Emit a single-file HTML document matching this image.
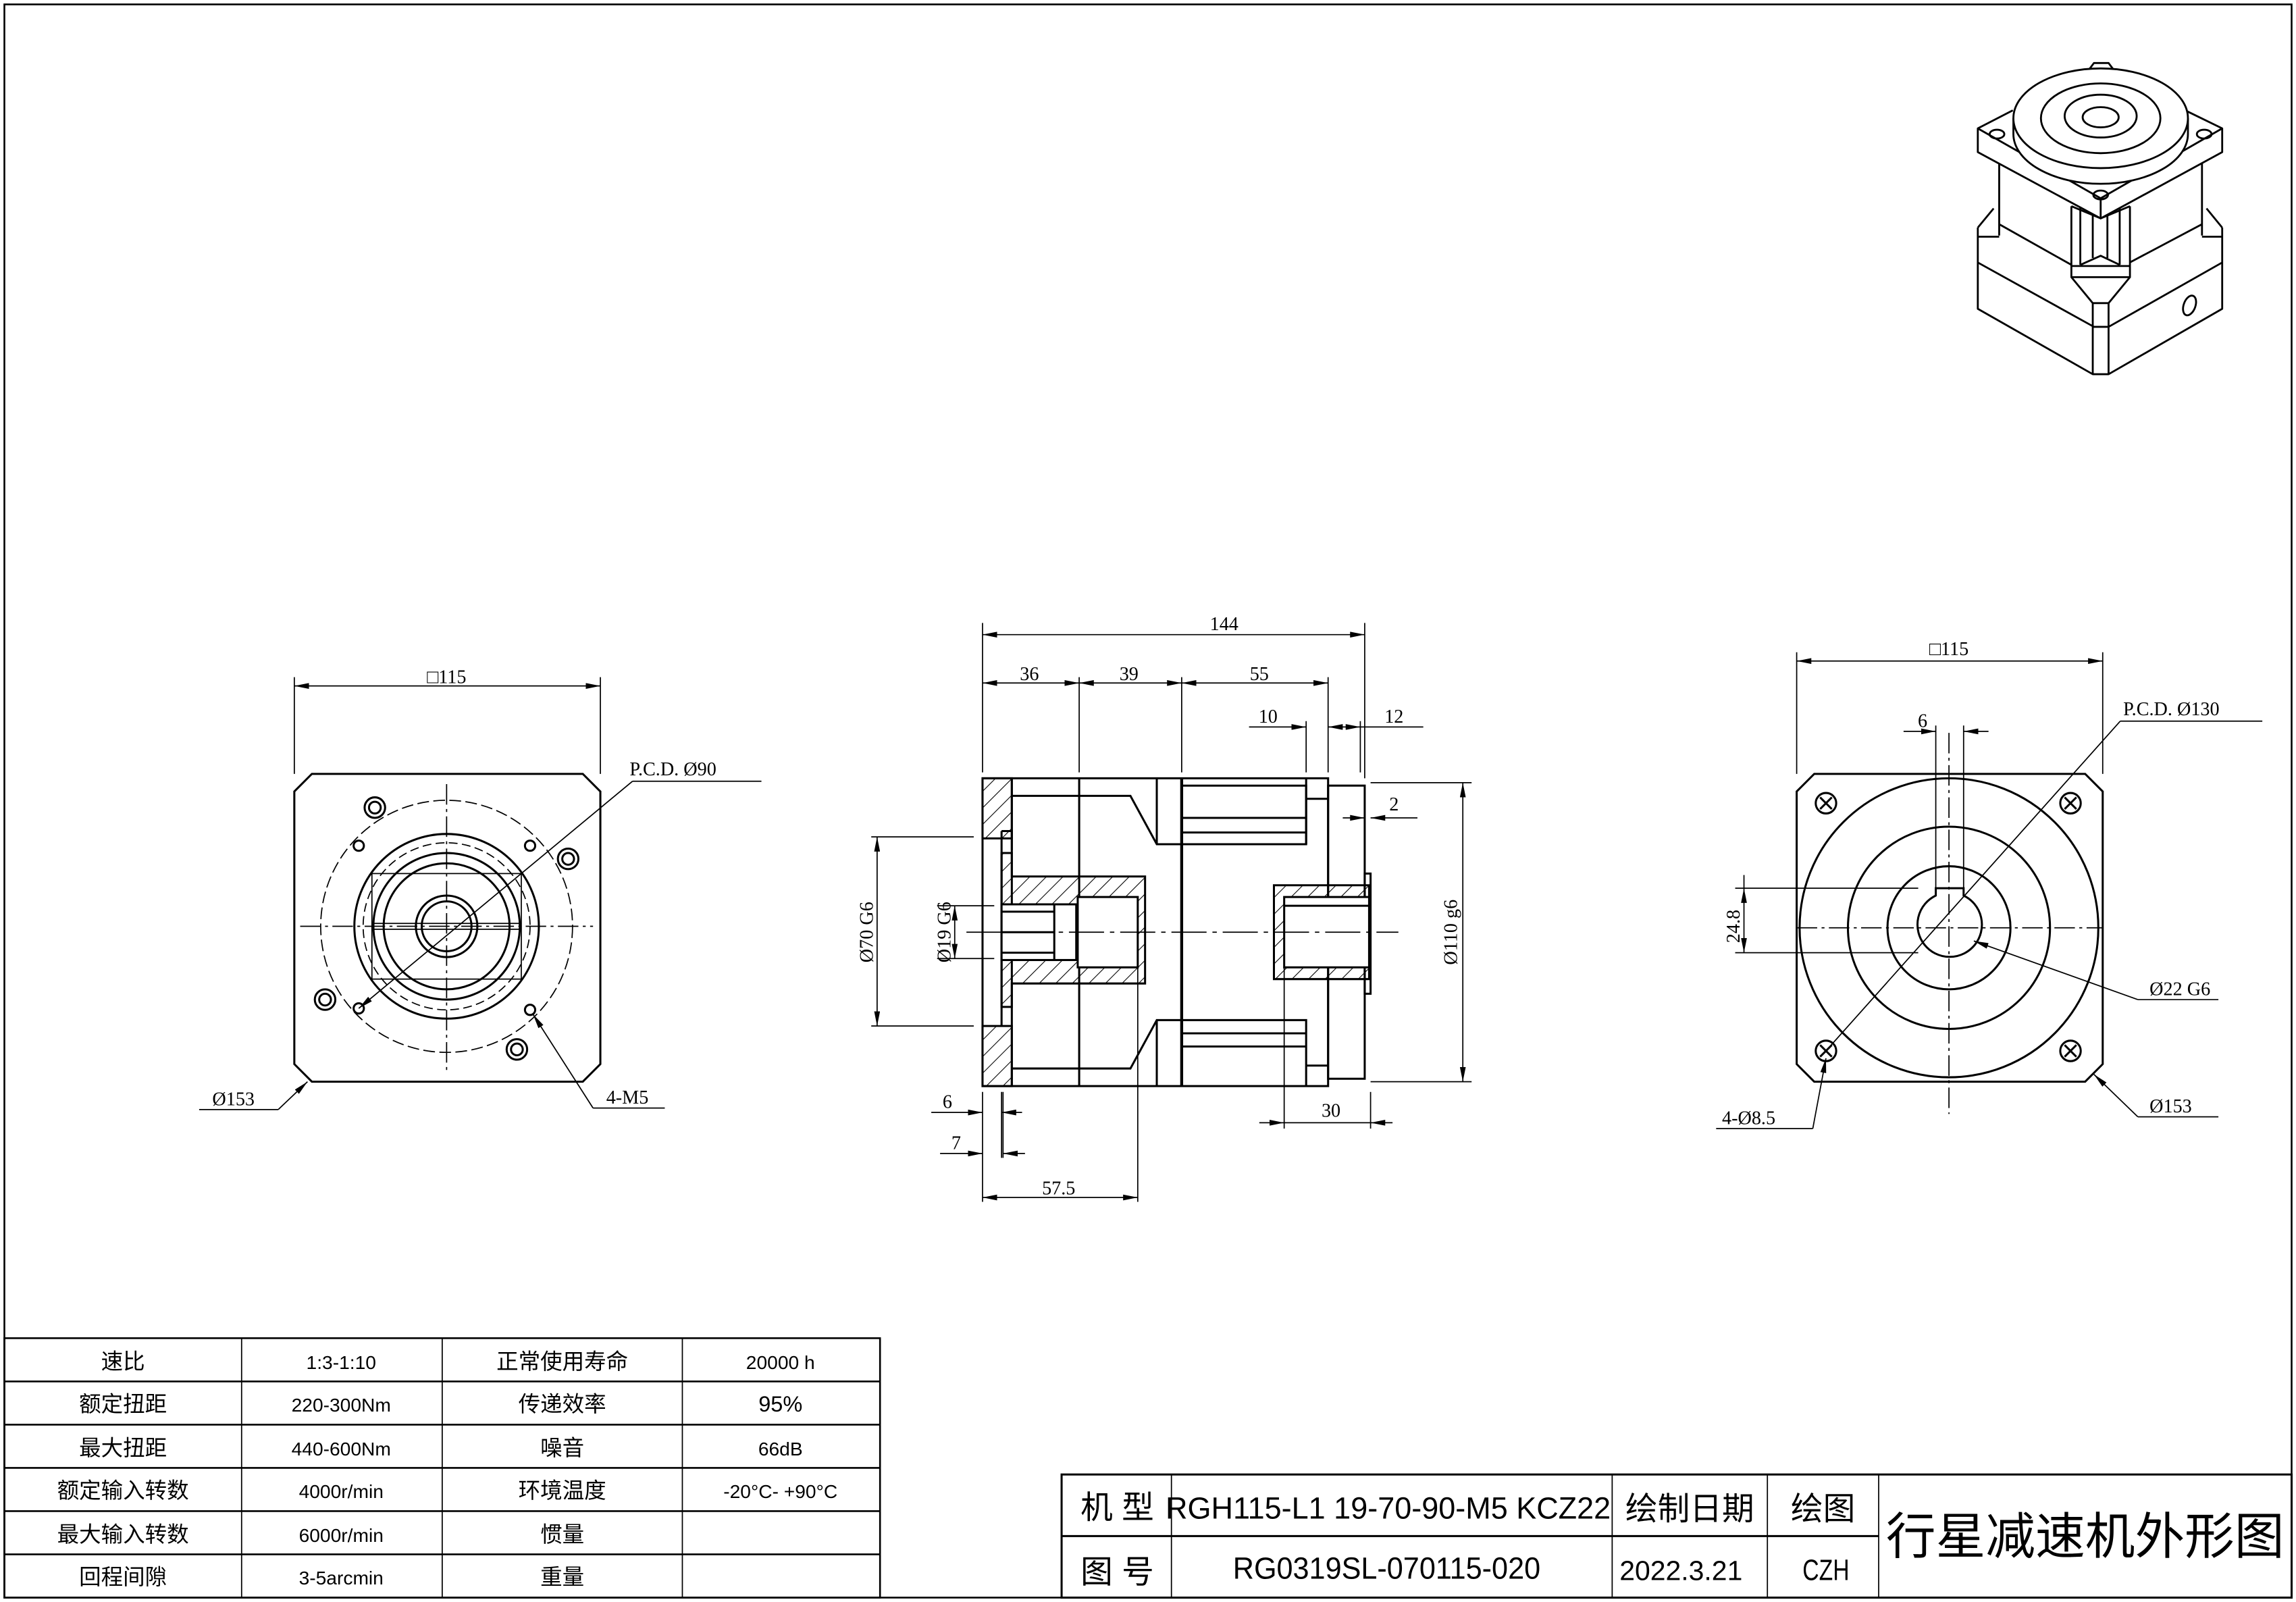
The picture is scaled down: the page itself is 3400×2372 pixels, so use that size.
<!DOCTYPE html>
<html><head><meta charset="utf-8"><style>
html,body{margin:0;padding:0;background:#fff}
svg{display:block}
text{font-family:"Liberation Sans","Noto Sans CJK SC",sans-serif;fill:#000}
.s{font-family:"Liberation Serif","Noto Serif CJK SC",serif}
</style></head><body>
<svg width="3400" height="2372" viewBox="0 0 1568 1093" preserveAspectRatio="none" xmlns="http://www.w3.org/2000/svg">
<defs>
<marker id="a" viewBox="0 0 10 4" refX="10" refY="2" markerWidth="10" markerHeight="4" orient="auto-start-reverse" markerUnits="userSpaceOnUse"><path d="M0,0L10,2L0,4z"/></marker>
<pattern id="h" width="8" height="8" patternUnits="userSpaceOnUse" patternTransform="rotate(45)"><line x1="0" y1="0" x2="0" y2="8" stroke="#000" stroke-width="1"/></pattern>
</defs>
<rect width="1568" height="1093" fill="#fff"/>
<rect x="3" y="3" width="1562" height="1087" fill="none" stroke="#000" stroke-width="1.2"/>

<!-- LEFT VIEW -->
<g fill="none" stroke="#000" stroke-width="1.4">
<path d="M213,528H398L410,540V726L398,738H213L201,726V540Z"/>
<circle cx="305" cy="632" r="86" stroke-width="0.8" stroke-dasharray="8,3"/>
<circle cx="305" cy="632" r="63"/>
<circle cx="305" cy="632" r="57" stroke-width="0.8" stroke-dasharray="6,3"/>
<circle cx="305" cy="632" r="50"/>
<circle cx="305" cy="632" r="43"/>
<circle cx="305" cy="632" r="21"/>
<circle cx="305" cy="632" r="17"/>
<rect x="254" y="596" width="102" height="72" stroke-width="0.8"/>
<line x1="254" y1="630" x2="356" y2="630" stroke-width="0.8"/><line x1="254" y1="634" x2="356" y2="634" stroke-width="0.8"/>
<circle cx="256" cy="551" r="7"/><circle cx="256" cy="551" r="4"/>
<circle cx="388" cy="586" r="7"/><circle cx="388" cy="586" r="4"/>
<circle cx="222" cy="682" r="7"/><circle cx="222" cy="682" r="4"/>
<circle cx="353" cy="716" r="7"/><circle cx="353" cy="716" r="4"/>
<circle cx="245" cy="577" r="3.5"/><circle cx="362" cy="577" r="3.5"/>
<circle cx="245" cy="688" r="3.5"/><circle cx="362" cy="689" r="3.5"/>
</g>
<g stroke="#000" stroke-width="0.8" fill="none">
<line x1="205" y1="632" x2="405" y2="632" stroke-dasharray="14,3,2,3"/>
<line x1="305" y1="535" x2="305" y2="730" stroke-dasharray="14,3,2,3"/>
<line x1="201" y1="528" x2="201" y2="462"/><line x1="410" y1="528" x2="410" y2="462"/>
<line x1="201" y1="468" x2="410" y2="468" marker-start="url(#a)" marker-end="url(#a)"/>
<line x1="245" y1="688" x2="432" y2="533" marker-start="url(#a)"/><line x1="432" y1="533" x2="520" y2="533"/>
<line x1="210" y1="738" x2="190" y2="757" marker-start="url(#a)"/><line x1="190" y1="757" x2="136" y2="757"/>
<line x1="364" y1="692" x2="405" y2="756" marker-start="url(#a)"/><line x1="405" y1="756" x2="454" y2="756"/>
</g>
<text x="305" y="466" font-size="13" text-anchor="middle" class="s">□115</text>
<text x="430" y="529" font-size="13" class="s">P.C.D. Ø90</text>
<text x="145" y="754" font-size="13" class="s">Ø153</text>
<text x="414" y="753" font-size="13" class="s">4-M5</text>

<!-- MIDDLE VIEW -->
<g fill="none" stroke="#000" stroke-width="1.4">
<rect x="671" y="531" width="236" height="210"/>
<rect x="907" y="536" width="25" height="200"/>
<rect x="932" y="596" width="4" height="82"/>
<line x1="737" y1="531" x2="737" y2="741"/>
<line x1="807" y1="531" x2="807" y2="741" stroke-width="2"/>
<line x1="691" y1="531" x2="691" y2="741"/>
<path d="M691,543H772L790,576H807"/>
<line x1="790" y1="531" x2="790" y2="576"/>
<path d="M691,729H772L790,696H807"/>
<line x1="790" y1="741" x2="790" y2="696"/>
<path d="M807,536H892V576H807"/><line x1="807" y1="558" x2="892" y2="558"/><line x1="807" y1="568" x2="892" y2="568"/>
<line x1="892" y1="531" x2="892" y2="576"/><line x1="892" y1="545" x2="907" y2="545"/>
<path d="M807,696H892V741"/><line x1="807" y1="705" x2="892" y2="705"/><line x1="807" y1="714" x2="892" y2="714"/>
<line x1="892" y1="727" x2="907" y2="727"/>
<path d="M671,531H691V572H671Z" fill="url(#h)"/>
<path d="M671,700H691V741H671Z" fill="url(#h)"/>
<path d="M684,567H691V580" /><line x1="684" y1="567" x2="684" y2="700"/>
<path d="M684,582H691V598H782V671H691V687H684Z" fill="url(#h)"/>
<rect x="684" y="617" width="51" height="38" fill="#fff"/>
<rect x="736" y="612" width="41" height="48" fill="#fff"/>
<line x1="684" y1="636" x2="720" y2="636"/><line x1="720" y1="617" x2="720" y2="655"/>
<line x1="684" y1="622" x2="720" y2="622"/><line x1="684" y1="650" x2="720" y2="650"/>
<path d="M870,604H935V668H870Z" fill="url(#h)"/>
<rect x="877" y="612" width="58" height="48" fill="#fff"/>
<line x1="877" y1="618" x2="935" y2="618"/>
</g>
<g stroke="#000" stroke-width="0.8" fill="none">
<line x1="660" y1="636" x2="955" y2="636" stroke-dasharray="24,4,3,4"/>
<line x1="671" y1="527" x2="671" y2="425"/><line x1="932" y1="531" x2="932" y2="425"/>
<line x1="671" y1="433" x2="932" y2="433" marker-start="url(#a)" marker-end="url(#a)"/>
<line x1="737" y1="527" x2="737" y2="462"/><line x1="807" y1="527" x2="807" y2="462"/><line x1="907" y1="527" x2="907" y2="462"/>
<line x1="671" y1="466" x2="737" y2="466" marker-start="url(#a)" marker-end="url(#a)"/>
<line x1="737" y1="466" x2="807" y2="466" marker-start="url(#a)" marker-end="url(#a)"/>
<line x1="807" y1="466" x2="907" y2="466" marker-start="url(#a)" marker-end="url(#a)"/>
<line x1="892" y1="527" x2="892" y2="492"/><line x1="929" y1="527" x2="929" y2="492"/>
<line x1="853" y1="496" x2="892" y2="496" marker-end="url(#a)"/>
<line x1="907" y1="496" x2="929" y2="496" marker-start="url(#a)" marker-end="url(#a)"/>
<line x1="929" y1="496" x2="972" y2="496"/>
<line x1="917" y1="558" x2="932" y2="558" marker-end="url(#a)"/><line x1="936" y1="558" x2="968" y2="558" marker-start="url(#a)"/>
<line x1="936" y1="534" x2="1005" y2="534"/><line x1="936" y1="738" x2="1005" y2="738"/>
<line x1="999" y1="534" x2="999" y2="738" marker-start="url(#a)" marker-end="url(#a)"/>
<line x1="665" y1="571" x2="595" y2="571"/><line x1="665" y1="700" x2="595" y2="700"/>
<line x1="599" y1="571" x2="599" y2="700" marker-start="url(#a)" marker-end="url(#a)"/>
<line x1="679" y1="618" x2="640" y2="618"/><line x1="679" y1="654" x2="640" y2="654"/>
<line x1="652" y1="618" x2="652" y2="654" marker-start="url(#a)" marker-end="url(#a)"/>
<line x1="671" y1="745" x2="671" y2="820"/><line x1="684" y1="745" x2="684" y2="790"/><line x1="685" y1="745" x2="685" y2="790"/>
<line x1="636" y1="759" x2="671" y2="759" marker-end="url(#a)"/><line x1="684" y1="759" x2="698" y2="759" marker-start="url(#a)"/>
<line x1="642" y1="787" x2="671" y2="787" marker-end="url(#a)"/><line x1="685" y1="787" x2="700" y2="787" marker-start="url(#a)"/>
<line x1="777" y1="660" x2="777" y2="820"/>
<line x1="671" y1="817" x2="777" y2="817" marker-start="url(#a)" marker-end="url(#a)"/>
<line x1="877" y1="660" x2="877" y2="770"/><line x1="936" y1="745" x2="936" y2="770"/>
<line x1="860" y1="766" x2="877" y2="766" marker-end="url(#a)"/>
<line x1="877" y1="766" x2="936" y2="766"/>
<line x1="936" y1="766" x2="951" y2="766" marker-start="url(#a)"/>
</g>
<g class="s" font-size="13" text-anchor="middle">
<text x="836" y="430" class="s">144</text>
<text x="703" y="464" class="s">36</text><text x="771" y="464" class="s">39</text><text x="860" y="464" class="s">55</text>
<text x="866" y="493" class="s">10</text><text x="952" y="493" class="s">12</text>
<text x="952" y="553" class="s">2</text>
<text x="909" y="762" class="s">30</text>
<text x="647" y="756" class="s">6</text><text x="653" y="784" class="s">7</text>
<text x="723" y="815" class="s">57.5</text>
<text x="0" y="0" transform="translate(995,636) rotate(-90)" class="s">Ø110 g6</text>
<text x="0" y="0" transform="translate(596,636) rotate(-90)" class="s">Ø70 G6</text>
<text x="0" y="0" transform="translate(649,636) rotate(-90)" class="s">Ø19 G6</text>
</g>

<!-- RIGHT VIEW -->
<g fill="none" stroke="#000" stroke-width="1.4">
<path d="M1239,528H1424L1436,540V726L1424,738H1239L1227,726V540Z"/>
<circle cx="1331" cy="633" r="102"/>
<circle cx="1331" cy="633" r="69"/>
<circle cx="1331" cy="633" r="42"/>
<path d="M1322,611A22,22 0 1 0 1341,611V606H1322Z"/>
<circle cx="1247" cy="548" r="7"/><line x1="1243" y1="544" x2="1251" y2="552"/><line x1="1251" y1="544" x2="1243" y2="552"/>
<circle cx="1414" cy="548" r="7"/><line x1="1410" y1="544" x2="1418" y2="552"/><line x1="1418" y1="544" x2="1410" y2="552"/>
<circle cx="1247" cy="717" r="7"/><line x1="1243" y1="713" x2="1251" y2="721"/><line x1="1251" y1="713" x2="1243" y2="721"/>
<circle cx="1414" cy="717" r="7"/><line x1="1410" y1="713" x2="1418" y2="721"/><line x1="1418" y1="713" x2="1410" y2="721"/>
</g>
<g stroke="#000" stroke-width="0.8" fill="none">
<line x1="1227" y1="633" x2="1436" y2="633" stroke-dasharray="14,3,2,3"/>
<line x1="1331" y1="500" x2="1331" y2="760" stroke-dasharray="14,3,2,3"/>
<line x1="1227" y1="528" x2="1227" y2="445"/><line x1="1436" y1="528" x2="1436" y2="445"/>
<line x1="1227" y1="451" x2="1436" y2="451" marker-start="url(#a)" marker-end="url(#a)"/>
<line x1="1322" y1="610" x2="1322" y2="495"/><line x1="1341" y1="610" x2="1341" y2="495"/>
<line x1="1300" y1="499" x2="1322" y2="499" marker-end="url(#a)"/><line x1="1341" y1="499" x2="1358" y2="499" marker-start="url(#a)"/>
<line x1="1247" y1="717" x2="1448" y2="492"/><line x1="1448" y1="492" x2="1545" y2="492"/>
<line x1="1310" y1="606" x2="1185" y2="606"/><line x1="1310" y1="650" x2="1185" y2="650"/>
<line x1="1191" y1="597" x2="1191" y2="606" /><line x1="1191" y1="606" x2="1191" y2="650" marker-start="url(#a)" marker-end="url(#a)"/>
<line x1="1348" y1="642" x2="1460" y2="682" marker-start="url(#a)"/><line x1="1460" y1="682" x2="1515" y2="682"/>
<line x1="1430" y1="733" x2="1460" y2="762" marker-start="url(#a)"/><line x1="1460" y1="762" x2="1515" y2="762"/>
<line x1="1247" y1="722" x2="1238" y2="770" marker-start="url(#a)"/><line x1="1238" y1="770" x2="1172" y2="770"/>
</g>
<g class="s" font-size="13">
<text x="1331" y="447" text-anchor="middle" class="s">□115</text>
<text x="1450" y="488" class="s">P.C.D. Ø130</text>
<text x="1313" y="496" text-anchor="middle" class="s">6</text>
<text x="0" y="0" transform="translate(1188,632) rotate(-90)" text-anchor="middle" class="s">24.8</text>
<text x="1468" y="679" class="s">Ø22 G6</text>
<text x="1468" y="759" class="s">Ø153</text>
<text x="1176" y="767" class="s">4-Ø8.5</text>
</g>

<!-- ISO VIEW -->
<g fill="none" stroke="#000" stroke-width="1.3" stroke-linejoin="round">
<!-- lower block -->
<path d="M1350.7,155.3V210.7L1429.2,255.3H1440L1517.6,210.7V155.3"/>
<path d="M1350.7,179.1L1430,223M1517.6,179.1L1440,223M1429.2,206.8V255.3M1440,206.8V255.3M1429.2,223H1440"/>
<path d="M1350.7,155.3L1361.5,142.2M1350.7,161.5H1365.3M1517.6,155.3L1506.9,142.2M1517.6,161.5H1503.8"/>
<path d="M1414.6,181.5H1454.6V189.1H1414.6Z"/>
<path d="M1414.6,189.1L1429.2,206.8H1440L1454.6,189.1"/>
<!-- upper body -->
<path d="M1365.3,111.5V160.7M1503.8,111.5V160.7"/>
<path d="M1365.3,153L1414.6,180.7M1454.6,179L1503.8,153"/>
<path d="M1414.6,140.7V181.5M1420.7,140.7V180.7M1429.2,140.7V176M1439.2,140.7V176M1447.6,140.7V180.7M1454.6,140.7V181.5"/>
<path d="M1414.6,140.7L1434.6,149L1454.6,140.7"/>
<path d="M1420.7,180.7L1434.6,174.5L1447.6,180.7"/>
<!-- flange -->
<path d="M1374.6,75.3L1350.7,87.6V103.8L1434.6,149L1517.6,103.8V87.6L1493.8,76" fill="#fff"/>
<path d="M1350.7,87.6L1434.6,135.3L1517.6,87.6M1434.6,135.3V149"/>
<ellipse cx="1363.8" cy="91.5" rx="5" ry="3"/><ellipse cx="1505.3" cy="91.5" rx="5" ry="3"/>
<ellipse cx="1434.6" cy="133" rx="5" ry="3"/>
<!-- disk -->
<path d="M1375,80.7V91.4A59.6,34 0 0 0 1494.2,91.4V80.7" fill="#fff"/>
<ellipse cx="1434.6" cy="80.7" rx="59.6" ry="34" fill="#fff"/>
<ellipse cx="1434.6" cy="80.7" rx="40.8" ry="23.8"/>
<ellipse cx="1434.6" cy="79.2" rx="24.6" ry="14.6"/>
<ellipse cx="1434.6" cy="80" rx="12.3" ry="6.9"/>
<path d="M1427,47L1430,43H1440L1443,47"/>
<ellipse cx="1495.3" cy="208.4" rx="4" ry="7" transform="rotate(20 1495.3 208.4)"/>
</g>

<!-- SPEC TABLE -->
<g stroke="#000" fill="none">
<rect x="3" y="913" width="598" height="177" stroke-width="1.2"/>
<g stroke-width="1.2">
<line x1="3" y1="942.5" x2="601" y2="942.5"/><line x1="3" y1="972" x2="601" y2="972"/>
<line x1="3" y1="1001.5" x2="601" y2="1001.5"/><line x1="3" y1="1031" x2="601" y2="1031"/>
<line x1="3" y1="1060.5" x2="601" y2="1060.5"/>
</g>
<g stroke-width="0.8">
<line x1="165" y1="913" x2="165" y2="1090"/><line x1="302" y1="913" x2="302" y2="1090"/><line x1="466" y1="913" x2="466" y2="1090"/>
</g>
</g>
<g font-size="15" text-anchor="middle">
<text x="84" y="934">速比</text><text x="233" y="934" font-size="13">1:3-1:10</text><text x="384" y="934">正常使用寿命</text><text x="533" y="934" font-size="13">20000 h</text>
<text x="84" y="963">额定扭距</text><text x="233" y="963" font-size="13">220-300Nm</text><text x="384" y="963">传递效率</text><text x="533" y="963" font-size="15">95%</text>
<text x="84" y="993">最大扭距</text><text x="233" y="993" font-size="13">440-600Nm</text><text x="384" y="993">噪音</text><text x="533" y="993" font-size="13">66dB</text>
<text x="84" y="1022">额定输入转数</text><text x="233" y="1022" font-size="13">4000r/min</text><text x="384" y="1022">环境温度</text><text x="533" y="1022" font-size="13">-20°C- +90°C</text>
<text x="84" y="1052">最大输入转数</text><text x="233" y="1052" font-size="13">6000r/min</text><text x="384" y="1052">惯量</text>
<text x="84" y="1081">回程间隙</text><text x="233" y="1081" font-size="13">3-5arcmin</text><text x="384" y="1081">重量</text>
</g>

<!-- TITLE BLOCK -->
<g stroke="#000" fill="none">
<rect x="725" y="1006" width="840" height="84" stroke-width="1.4"/>
<line x1="725" y1="1048" x2="1283" y2="1048" stroke-width="1.4"/>
<g stroke-width="0.8">
<line x1="800" y1="1006" x2="800" y2="1090"/><line x1="1101" y1="1006" x2="1101" y2="1090"/>
<line x1="1207" y1="1006" x2="1207" y2="1090"/><line x1="1283" y1="1006" x2="1283" y2="1090"/>
</g>
</g>
<g font-size="22" text-anchor="middle">
<text x="763" y="1036">机 型</text><text x="763" y="1080">图 号</text>
<text x="796" y="1036" font-size="21" text-anchor="start" textLength="304" lengthAdjust="spacingAndGlyphs">RGH115-L1 19-70-90-M5 KCZ22</text>
<text x="947" y="1077" font-size="21" textLength="210" lengthAdjust="spacingAndGlyphs">RG0319SL-070115-020</text>
<text x="1154" y="1037">绘制日期</text><text x="1148" y="1078" font-size="19" textLength="84" lengthAdjust="spacingAndGlyphs">2022.3.21</text>
<text x="1245" y="1037">绘图</text><text x="1247" y="1078" font-size="20" textLength="32" lengthAdjust="spacingAndGlyphs">CZH</text>
<text x="1424" y="1060" font-size="34">行星减速机外形图</text>
</g>
</svg>
</body></html>
